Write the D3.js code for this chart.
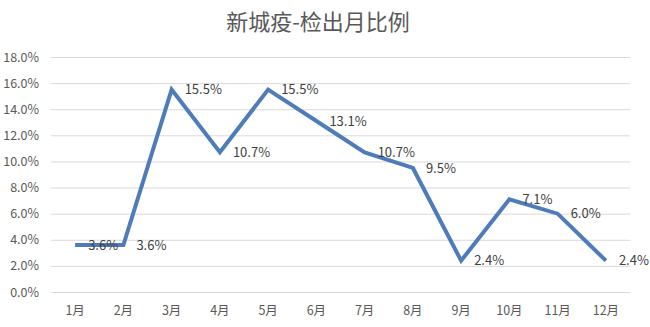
<!DOCTYPE html>
<html><head><meta charset="utf-8">
<script src="https://cdn.jsdelivr.net/npm/d3@7/dist/d3.min.js"></script>
<style>body{margin:0;background:#fff}svg{display:block}</style>
</head><body>
<script>
const title = "新城疫-检出月比例";
const months = ["1月","2月","3月","4月","5月","6月","7月","8月","9月","10月","11月","12月"];
const values = [3.6,3.6,15.5,10.7,15.5,13.1,10.7,9.5,2.4,7.1,6.0,2.4];
const yTicks = [0,2,4,6,8,10,12,14,16,18];

const W=650,H=327;
const svg=d3.select("body").append("svg").attr("width",W).attr("height",H);
const font="'Microsoft YaHei','Noto Sans CJK SC','DejaVu Sans',sans-serif";
const x=d3.scaleBand().domain(months).range([51,630]);
const y=d3.scaleLinear().domain([0,18]).range([292,57]);

svg.append("text").attr("x",318).attr("y",30).attr("text-anchor","middle")
  .attr("font-family",font).attr("font-size",22).attr("fill","#595959").text(title);

const ya=svg.append("g").attr("transform","translate(51,0)")
  .call(d3.axisLeft(y).tickValues(yTicks).tickSize(-(630-51)).tickPadding(12).tickFormat(d=>d.toFixed(1)+"%"));
ya.select(".domain").remove();
ya.selectAll("line").attr("stroke","#d9d9d9").attr("stroke-width",1);
ya.selectAll("text").attr("font-family",font).attr("font-size",12.5).attr("fill","#595959");

const xa=svg.append("g").attr("transform","translate(0,292)")
  .call(d3.axisBottom(x).tickSize(0).tickPadding(14));
xa.select(".domain").remove();
xa.selectAll("text").attr("font-family",font).attr("font-size",12.5).attr("fill","#595959");

const line=d3.line().x((d,i)=>x(months[i])+x.bandwidth()/2).y(d=>y(d));
svg.append("path").datum(values).attr("d",line).attr("fill","none")
  .attr("stroke","#4e7cba").attr("stroke-width",4).attr("stroke-linejoin","miter");

svg.append("g").selectAll("text").data(values).join("text")
  .attr("x",(d,i)=>x(months[i])+x.bandwidth()/2+13)
  .attr("y",d=>y(d)).attr("dy","0.35em")
  .attr("font-family",font).attr("font-size",13).attr("fill","#404040")
  .text(d=>d.toFixed(1)+"%");
</script>
</body></html>
